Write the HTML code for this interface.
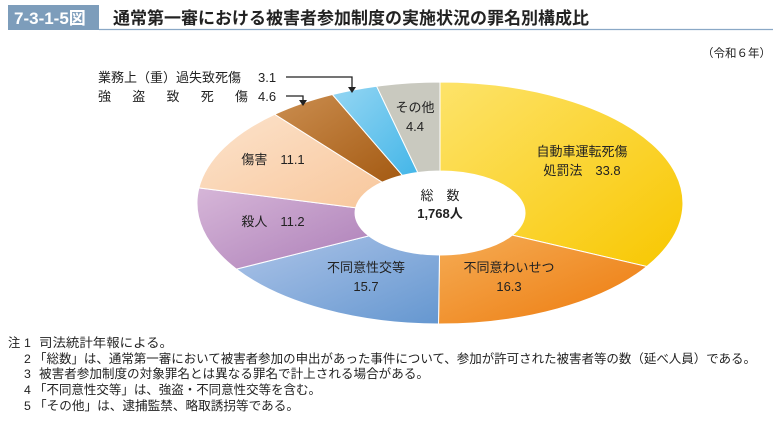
<!DOCTYPE html>
<html><head><meta charset="utf-8"><style>
html,body{margin:0;padding:0;background:#fff;}
svg{display:block;font-family:"Liberation Sans","Noto Sans CJK JP",sans-serif;}
</style></head><body>
<svg width="777" height="421" viewBox="0 0 777 421" xmlns="http://www.w3.org/2000/svg">
<defs>
<linearGradient id="gy" x1="0" y1="0" x2="1" y2="1"><stop offset="0" stop-color="#fde36a"/><stop offset="1" stop-color="#f8c700"/></linearGradient>
<linearGradient id="go" x1="0" y1="0" x2="1" y2="1"><stop offset="0" stop-color="#f5ac55"/><stop offset="1" stop-color="#ed7a0c"/></linearGradient>
<linearGradient id="gb" x1="0" y1="0" x2="1" y2="1"><stop offset="0" stop-color="#adc4e8"/><stop offset="1" stop-color="#6597d0"/></linearGradient>
<linearGradient id="gp" x1="0" y1="0" x2="1" y2="1"><stop offset="0" stop-color="#d6b6d8"/><stop offset="1" stop-color="#ad7fb8"/></linearGradient>
<linearGradient id="gk" x1="0" y1="0" x2="1" y2="1"><stop offset="0" stop-color="#fce3cc"/><stop offset="1" stop-color="#f8c79c"/></linearGradient>
<linearGradient id="gn" x1="0" y1="0" x2="1" y2="1"><stop offset="0" stop-color="#cb8e50"/><stop offset="1" stop-color="#a45a12"/></linearGradient>
<linearGradient id="gl" x1="0" y1="0" x2="1" y2="1"><stop offset="0" stop-color="#95d6f3"/><stop offset="1" stop-color="#44b6e8"/></linearGradient>
</defs>
<rect x="8" y="5" width="91" height="25" fill="#7d9dbb"/>
<text x="14" y="24" font-size="17" font-weight="bold" fill="#fff">7-3-1-5図</text>
<text x="113" y="24" font-size="17" font-weight="bold" fill="#222">通常第一審における被害者参加制度の実施状況の罪名別構成比</text>
<line x1="99" y1="29.5" x2="773" y2="29.5" stroke="#8aa8c6" stroke-width="1.2"/>
<text x="771" y="57" font-size="11.5" fill="#222" text-anchor="end">（令和６年）</text>

<g stroke="#fff" stroke-width="1">
<path d="M440,82 A243,121 0 0 1 646.8,266.5 L512.3,235.1 A85,42 0 0 0 440,171 Z" fill="url(#gy)"/>
<path d="M646.8,266.5 A243,121 0 0 1 438.5,324 L439.5,255 A85,42 0 0 0 512.3,235.1 Z" fill="url(#go)"/>
<path d="M438.5,324 A243,121 0 0 1 236.4,269.1 L368.8,235.9 A85,42 0 0 0 439.5,255 Z" fill="url(#gb)"/>
<path d="M236.4,269.1 A243,121 0 0 1 198.9,187.9 L355.7,207.8 A85,42 0 0 0 368.8,235.9 Z" fill="url(#gp)"/>
<path d="M198.9,187.9 A243,121 0 0 1 274.7,114.3 L382.2,182.2 A85,42 0 0 0 355.7,207.8 Z" fill="url(#gk)"/>
<path d="M274.7,114.3 A243,121 0 0 1 332.4,94.5 L402.3,175.3 A85,42 0 0 0 382.2,182.2 Z" fill="url(#gn)"/>
<path d="M332.4,94.5 A243,121 0 0 1 376.6,86.2 L417.8,172.5 A85,42 0 0 0 402.3,175.3 Z" fill="url(#gl)"/>
<path d="M376.6,86.2 A243,121 0 0 1 440,82 L440,171 A85,42 0 0 0 417.8,172.5 Z" fill="#c9c9bf"/>
</g>

<g font-size="13" fill="#222" text-anchor="middle">
<text x="440" y="200">総　数</text>
<text x="440" y="218" font-weight="bold">1,768人</text>
<text x="582" y="156">自動車運転死傷</text>
<text x="582" y="175">処罰法　33.8</text>
<text x="509" y="272">不同意わいせつ</text>
<text x="509" y="291">16.3</text>
<text x="366" y="272">不同意性交等</text>
<text x="366" y="291">15.7</text>
<text x="273" y="226">殺人　11.2</text>
<text x="273" y="164">傷害　11.1</text>
<text x="415" y="112">その他</text>
<text x="415" y="131">4.4</text>
</g>

<g font-size="13" fill="#222">
<text x="98" y="82">業務上（重）過失致死傷</text>
<text x="258" y="82">3.1</text>
<text x="98" y="101" textLength="150" lengthAdjust="spacing">強　盗　致　死　傷</text>
<text x="258" y="101">4.6</text>
</g>
<g stroke="#222" stroke-width="1.3" fill="none">
<polyline points="286,77 352,77 352,88"/>
<polyline points="286,96 303,96 303,101"/>
</g>
<polygon points="348,87 356,87 352,93" fill="#222"/>
<polygon points="299,100 307,100 303,106" fill="#222"/>

<g font-size="12.3" fill="#222">
<text x="8" y="347">注</text>
<text x="24" y="347">1</text><text x="39" y="347" textLength="134" lengthAdjust="spacingAndGlyphs">司法統計年報による。</text>
<text x="24" y="363">2</text><text x="34" y="363" textLength="722" lengthAdjust="spacingAndGlyphs">「総数」は、通常第一審において被害者参加の申出があった事件について、参加が許可された被害者等の数（延べ人員）である。</text>
<text x="24" y="378">3</text><text x="39" y="378" textLength="390" lengthAdjust="spacingAndGlyphs">被害者参加制度の対象罪名とは異なる罪名で計上される場合がある。</text>
<text x="24" y="394">4</text><text x="34" y="394" textLength="287" lengthAdjust="spacingAndGlyphs">「不同意性交等」は、強盗・不同意性交等を含む。</text>
<text x="24" y="410">5</text><text x="34" y="410" textLength="265" lengthAdjust="spacingAndGlyphs">「その他」は、逮捕監禁、略取誘拐等である。</text>
</g>
</svg>
</body></html>
